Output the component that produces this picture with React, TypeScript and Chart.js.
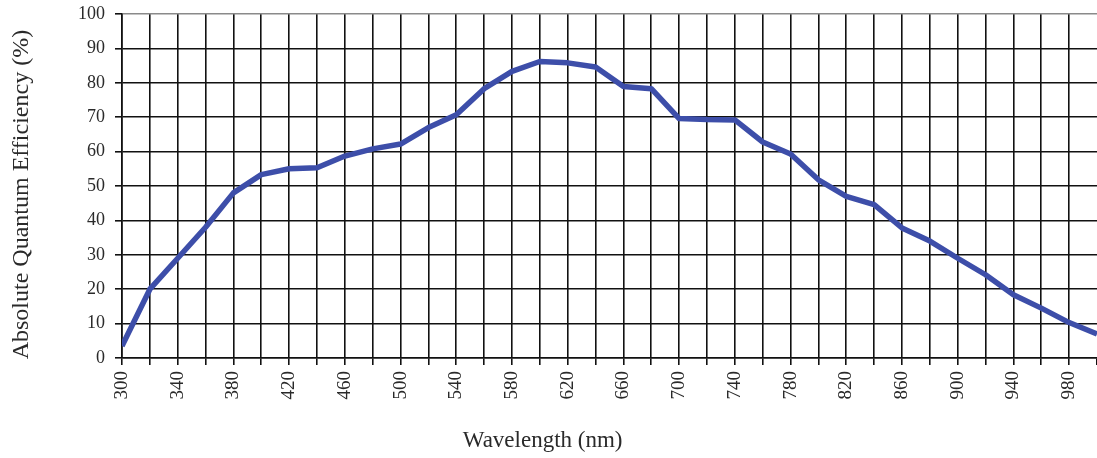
import React, { useEffect, useRef } from "react";
import { Chart, registerables } from "chart.js";

Chart.register(...registerables);

const wavelengths = [
  300, 320, 340, 360, 380, 400, 420, 440, 460, 480, 500, 520, 540, 560, 580, 600, 620, 640,
  660, 680, 700, 720, 740, 760, 780, 800, 820, 840, 860, 880, 900, 920, 940, 960, 980, 1000,
];
const efficiency = [
  3.5, 20, 29, 38, 48, 53.3, 55, 55.3, 58.7, 60.8, 62.2, 67, 70.7, 78.3, 83.3, 86.2, 85.8, 84.6,
  78.9, 78.3, 69.6, 69.3, 69.2, 62.8, 59.3, 51.8, 47, 44.6, 37.8, 34, 29, 24.2, 18.4, 14.5, 10.3, 7,
];
const xTickLabels = [300, 340, 380, 420, 460, 500, 540, 580, 620, 660, 700, 740, 780, 820, 860, 900, 940, 980];
const yTickValues = [0, 10, 20, 30, 40, 50, 60, 70, 80, 90, 100];

const X_TITLE = "Wavelength (nm)";
const Y_TITLE = "Absolute Quantum Efficiency (%)";
const FONT = '"Liberation Serif", "Times New Roman", serif';
const TEXT_COLOR = "#2a2a2a";
const LINE_COLOR = "#3d4ea9";

export default function App() {
  const canvasRef = useRef<HTMLCanvasElement | null>(null);

  useEffect(() => {
    document.body.style.margin = "0";
    const canvas = canvasRef.current;
    if (!canvas) return;

    const axisTitlesPlugin = {
      id: "axisTitles",
      afterDraw(chart: any) {
        const ctx = chart.ctx;
        const xs = chart.scales.x;
        const ys = chart.scales.y;
        ctx.save();
        ctx.fillStyle = TEXT_COLOR;
        ctx.textAlign = "center";
        ctx.textBaseline = "middle";
        ctx.font = `23px ${FONT}`;
        ctx.fillText(X_TITLE, xs.getPixelForValue(602), 441);
        ctx.translate(22, ys.getPixelForValue(47.5));
        ctx.rotate(-Math.PI / 2);
        ctx.font = `24px ${FONT}`;
        ctx.fillText(Y_TITLE, 0, 0);
        ctx.restore();
      },
    };

    const chart = new Chart(canvas, {
      type: "line",
      data: {
        datasets: [
          {
            data: wavelengths.map((w, i) => ({ x: w, y: efficiency[i] })),
            borderColor: LINE_COLOR,
            backgroundColor: LINE_COLOR,
            borderWidth: 5.5,
            pointRadius: 0,
            tension: 0,
            borderJoinStyle: "round",
            fill: false,
          },
        ],
      },
      options: {
        responsive: false,
        animation: false,
        devicePixelRatio: 1,
        layout: { padding: { top: 14, right: 0, left: 0, bottom: 0 } },
        plugins: {
          legend: { display: false },
          tooltip: { enabled: false },
        },
        scales: {
          x: {
            type: "linear",
            min: 300,
            max: 1000,
            ticks: {
              stepSize: 20,
              autoSkip: false,
              minRotation: 90,
              maxRotation: 90,
              padding: 6,
              color: TEXT_COLOR,
              font: { family: FONT, size: 19 },
              callback: (v: any) => (xTickLabels.includes(Number(v)) ? String(v) : ""),
            },
            grid: {
              color: (c: any) => (c.tick && c.tick.value === 1000 ? "rgba(0,0,0,0)" : "#111"),
              lineWidth: 1.6,
              tickLength: 7,
              tickColor: "#111",
              drawTicks: true,
            },
            border: { color: "#111", width: 1.6 },
            title: { display: false },
            afterFit: (scale: any) => {
              scale.height = 100;
              scale.paddingLeft = 0;
              scale.paddingRight = 0;
            },
          },
          y: {
            min: 0,
            max: 100,
            afterBuildTicks: (scale: any) => {
              scale.ticks = yTickValues.map((v) => ({ value: v }));
            },
            ticks: {
              padding: 10,
              color: TEXT_COLOR,
              font: { family: FONT, size: 18 },
            },
            grid: {
              color: (c: any) => (c.tick && c.tick.value === 100 ? "#8a8a8a" : "#111"),
              lineWidth: 1.6,
              tickLength: 7,
              tickColor: "#111",
            },
            border: { color: "#111", width: 1.6 },
            title: { display: false },
            afterFit: (scale: any) => {
              scale.width = 122;
              scale.paddingTop = 0;
              scale.paddingBottom = 0;
            },
          },
        },
      },
      plugins: [axisTitlesPlugin],
    });

    return () => chart.destroy();
  }, []);

  return (
    <div style={{ width: 1097, height: 458, position: "relative" }}>
      <canvas ref={canvasRef} width={1097} height={458} style={{ display: "block", width: 1097, height: 458 }} />
    </div>
  );
}
